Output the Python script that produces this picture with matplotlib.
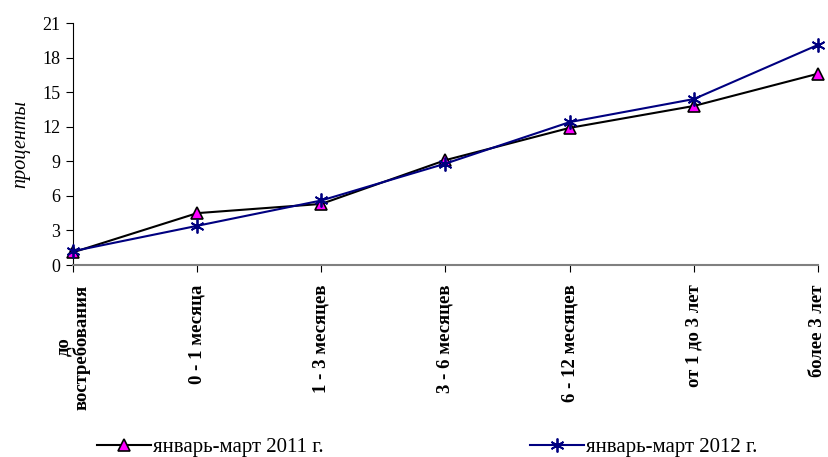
import matplotlib
matplotlib.use("Agg")
import matplotlib.pyplot as plt

categories = ["до\nвостребования", "0 - 1 месяца", "1 - 3 месяцев", "3 - 6 месяцев",
              "6 - 12 месяцев", "от 1 до 3 лет", "более 3 лет"]
series_2011 = [1.1, 4.5, 5.3, 9.1, 11.9, 13.8, 16.6]
series_2012 = [1.2, 3.4, 5.6, 8.8, 12.4, 14.4, 19.1]
yticks = [0, 3, 6, 9, 12, 15, 18, 21]
label_2011 = "январь-март 2011 г."
label_2012 = "январь-март 2012 г."

plt.rcParams['font.family'] = ['Liberation Serif', 'DejaVu Serif']

fig = plt.figure(figsize=(8.29, 4.57), dpi=100)
W, H = 829, 457
left, right, top, bottom = 73, 818, 23, 265
ax = fig.add_axes([left / W, 1 - bottom / H, (right - left) / W, (bottom - top) / H])

x = list(range(len(categories)))
ax.plot(x, series_2011, color='black', lw=1.5, marker='^', markersize=9,
        markerfacecolor='#ff00ff', markeredgecolor='black', markeredgewidth=1.2,
        label=label_2011, clip_on=False, zorder=3)
ax.plot(x, series_2012, color='#000080', lw=1.5, marker=(6, 2, 0), markersize=10,
        markeredgecolor='#000080', markeredgewidth=1.3,
        label=label_2012, clip_on=False, zorder=4)

ax.set_xlim(0, len(categories) - 1)
ax.set_ylim(0, 21)
ax.set_yticks(yticks)
ax.set_yticklabels([str(v) for v in yticks], fontsize=13)
ax.set_xticks(x)
ax.set_xticklabels(categories, rotation=90, fontsize=13.5, fontweight='bold',
                   va='top', ha='center', linespacing=1.0)

for s in ['top', 'right']:
    ax.spines[s].set_visible(False)
ax.spines['left'].set_color('black')
ax.spines['bottom'].set_color('#808080')
ax.spines['bottom'].set_linewidth(1.5)
ax.tick_params(axis='y', direction='out', length=5, pad=4, color='black')
ax.tick_params(axis='x', direction='out', length=5, pad=9, color='black')

ax.set_ylabel("проценты", fontstyle='italic', fontsize=14.5, labelpad=9)

fig.text(0.6, 1.0 + 4 / H, "Структура депозитов по срокам", ha='center', va='baseline',
         fontsize=14, fontweight='bold')

leg = fig.legend(loc='lower center', bbox_to_anchor=(0.515, -0.042), ncol=2,
                 frameon=False, fontsize=15, columnspacing=9.9, handlelength=2.6,
                 handletextpad=0.1)

fig.savefig("out.png", dpi=100)
